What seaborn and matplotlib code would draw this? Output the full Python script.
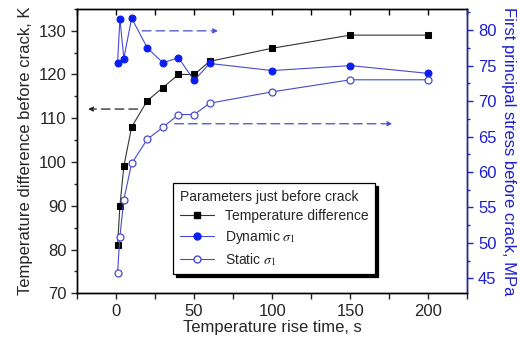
import matplotlib
matplotlib.use("Agg")
import matplotlib.pyplot as plt
import seaborn as sns
import pandas as pd
from matplotlib.lines import Line2D
from matplotlib.ticker import MultipleLocator

# ---- data ----
time_s = [1, 2.5, 5, 10, 20, 30, 40, 50, 60, 100, 150, 200]
temp_diff_K = [81, 90, 99, 108, 114, 117, 120, 120, 123, 126, 129, 129]
dynamic_sigma = [75.4, 81.6, 76.0, 81.7, 77.5, 75.4, 76.1, 72.9, 75.3, 74.3, 75.0, 73.9]
static_sigma = [45.8, 50.9, 56.1, 61.2, 64.6, 66.3, 68.1, 68.1, 69.7, 71.3, 73.0, 73.0]

df = pd.DataFrame({"t": time_s, "dT": temp_diff_K, "dyn": dynamic_sigma, "sta": static_sigma})

sns.set_style("ticks")
plt.rcParams["font.family"] = ["Liberation Sans", "DejaVu Sans"]
plt.rcParams["mathtext.fontset"] = "stix"

BLUE_TXT = "#1f1fcc"
BLUE_LN = "#4a4acc"
BLUE_MK = "#0a1ef0"

fig = plt.figure(figsize=(5.2, 3.41), dpi=100)
ax = fig.add_subplot(111)
fig.subplots_adjust(left=0.148, right=0.899, bottom=0.140, top=0.974)
ax2 = ax.twinx()

sns.lineplot(data=df, x="t", y="dT", ax=ax, color="#333333", lw=0.8,
             marker="s", markersize=4.5, markerfacecolor="black",
             markeredgecolor="black", legend=False)
sns.lineplot(data=df, x="t", y="dyn", ax=ax2, color=BLUE_LN, lw=0.8,
             marker="o", markersize=5, markerfacecolor=BLUE_MK,
             markeredgecolor=BLUE_MK, legend=False)
sns.lineplot(data=df, x="t", y="sta", ax=ax2, color=BLUE_LN, lw=0.8,
             marker="o", markersize=5, markerfacecolor="white",
             markeredgecolor=BLUE_LN, markeredgewidth=0.9, legend=False)

ax.set_xlim(-25, 225)
ax.set_ylim(70, 135)
ax2.set_ylim(42.9, 83.0)
ax2.set_xlabel("")

ax.xaxis.set_major_locator(MultipleLocator(50))
ax.xaxis.set_minor_locator(MultipleLocator(25))
ax.yaxis.set_major_locator(MultipleLocator(10))
ax.yaxis.set_minor_locator(MultipleLocator(5))
ax2.yaxis.set_major_locator(MultipleLocator(5))
ax2.yaxis.set_minor_locator(MultipleLocator(2.5))

for a in (ax, ax2):
    for s in a.spines.values():
        s.set_linewidth(1.0)
        s.set_color("black")
ax2.spines["right"].set_color(BLUE_TXT)

ax.tick_params(axis="x", which="both", direction="out", bottom=True, top=False,
               labelsize=12, width=1, length=4)
ax.tick_params(axis="y", which="major", direction="out", length=4, labelsize=12, width=1)
ax.tick_params(axis="y", which="minor", direction="out", length=2.5, width=1)
ax2.tick_params(axis="y", which="major", direction="out", length=4, labelsize=12,
                colors=BLUE_TXT, width=1)
ax2.tick_params(axis="y", which="minor", direction="out", length=2.5, colors=BLUE_TXT, width=1)

# top ticks pointing inward (via the twin's own x axis)
ax2.xaxis.set_visible(True)
ax2.xaxis.set_ticks_position("top")
ax2.xaxis.set_major_locator(MultipleLocator(50))
ax2.xaxis.set_minor_locator(MultipleLocator(25))
ax2.tick_params(axis="x", which="both", direction="in", top=True, bottom=False,
                labeltop=False, labelbottom=False, length=4, width=1, color="black")

ax.set_xlabel("Temperature rise time, s", fontsize=12, labelpad=1)
ax.set_ylabel("Temperature difference before crack, K", fontsize=12, labelpad=4)
ax2.set_ylabel("First principal stress before crack, MPa", fontsize=12,
               color=BLUE_TXT, rotation=270, labelpad=14)

# direction arrows
dash = (0, (7, 4))
ax.annotate("", xy=(-19.6, 112.1), xytext=(15.6, 112.1),
            arrowprops=dict(arrowstyle="-|>", color="#222222", lw=0.9,
                            linestyle=dash, mutation_scale=7))
ax2.annotate("", xy=(67, 79.9), xytext=(15, 79.9),
             arrowprops=dict(arrowstyle="-|>", color=BLUE_LN, lw=0.9,
                             linestyle=dash, mutation_scale=7))
ax2.annotate("", xy=(178.6, 66.8), xytext=(35.8, 66.8),
             arrowprops=dict(arrowstyle="-|>", color=BLUE_LN, lw=0.9,
                             linestyle=dash, mutation_scale=7))

handles = [
    Line2D([], [], color="#333333", lw=0.8, marker="s", markersize=4.5,
           markerfacecolor="black", markeredgecolor="black"),
    Line2D([], [], color=BLUE_LN, lw=0.8, marker="o", markersize=5,
           markerfacecolor=BLUE_MK, markeredgecolor=BLUE_MK),
    Line2D([], [], color=BLUE_LN, lw=0.8, marker="o", markersize=5,
           markerfacecolor="white", markeredgecolor=BLUE_LN),
]
labels = ["Temperature difference", r"Dynamic $\sigma_1$", r"Static $\sigma_1$"]
leg = ax2.legend(handles, labels, title="Parameters just before crack",
                 loc="upper left", bbox_to_anchor=(0.2465, 0.387), borderaxespad=0,
                 fontsize=10, title_fontsize=10, frameon=True, fancybox=False,
                 edgecolor="black", framealpha=1, handlelength=2.4,
                 shadow={"color": "black", "alpha": 1},
                 labelspacing=0.35, borderpad=0.5)
leg.get_frame().set_linewidth(0.9)
leg._legend_box.align = "left"

fig.savefig("out.png", dpi=100)
